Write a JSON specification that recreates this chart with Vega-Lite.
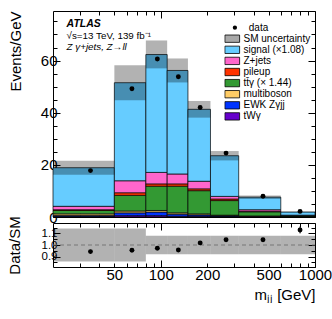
{
  "$schema": "https://vega.github.io/schema/vega-lite/v6.json",
  "padding": {"left": 7, "top": 10, "right": 0, "bottom": 0},
  "spacing": 6,
  "bounds": "flush",
  "config": {
    "font": "Liberation Sans",
    "view": {"stroke": "black", "strokeWidth": 1},
    "axis": {"domain": false, "grid": false, "tickColor": "black", "tickWidth": 1, "labelColor": "black", "titleColor": "black", "labelFont": "Liberation Sans", "titleFont": "Liberation Sans", "labelFontSize": 15, "titleFontSize": 15, "titleFontWeight": "normal", "labelFlush": false, "labelOverlap": false, "minExtent": 0},
    "legend": {"padding": 0}
  },
  "datasets": {
    "stack": [
      {"lo": 20, "hi": 50, "p": "tWγ", "o": 1, "v": 0.2},
      {"lo": 20, "hi": 50, "p": "EWK Zγjj", "o": 2, "v": 0.4},
      {"lo": 20, "hi": 50, "p": "multiboson", "o": 3, "v": 0.6},
      {"lo": 20, "hi": 50, "p": "tt̄γ (× 1.44)", "o": 4, "v": 1.3},
      {"lo": 20, "hi": 50, "p": "pileup", "o": 5, "v": 0.3},
      {"lo": 20, "hi": 50, "p": "Z+jets", "o": 6, "v": 1.3},
      {"lo": 20, "hi": 50, "p": "signal (×1.08)", "o": 7, "v": 14.8},
      {"lo": 50, "hi": 80, "p": "tWγ", "o": 1, "v": 0.5},
      {"lo": 50, "hi": 80, "p": "EWK Zγjj", "o": 2, "v": 1.1},
      {"lo": 50, "hi": 80, "p": "multiboson", "o": 3, "v": 0.7},
      {"lo": 50, "hi": 80, "p": "tt̄γ (× 1.44)", "o": 4, "v": 6.0},
      {"lo": 50, "hi": 80, "p": "pileup", "o": 5, "v": 1.0},
      {"lo": 50, "hi": 80, "p": "Z+jets", "o": 6, "v": 4.6},
      {"lo": 50, "hi": 80, "p": "signal (×1.08)", "o": 7, "v": 37.6},
      {"lo": 80, "hi": 110, "p": "tWγ", "o": 1, "v": 0.5},
      {"lo": 80, "hi": 110, "p": "EWK Zγjj", "o": 2, "v": 1.4},
      {"lo": 80, "hi": 110, "p": "multiboson", "o": 3, "v": 0.6},
      {"lo": 80, "hi": 110, "p": "tt̄γ (× 1.44)", "o": 4, "v": 9.3},
      {"lo": 80, "hi": 110, "p": "pileup", "o": 5, "v": 0.9},
      {"lo": 80, "hi": 110, "p": "Z+jets", "o": 6, "v": 4.4},
      {"lo": 80, "hi": 110, "p": "signal (×1.08)", "o": 7, "v": 45.2},
      {"lo": 110, "hi": 150, "p": "tWγ", "o": 1, "v": 0.3},
      {"lo": 110, "hi": 150, "p": "EWK Zγjj", "o": 2, "v": 0.8},
      {"lo": 110, "hi": 150, "p": "multiboson", "o": 3, "v": 0.5},
      {"lo": 110, "hi": 150, "p": "tt̄γ (× 1.44)", "o": 4, "v": 10.2},
      {"lo": 110, "hi": 150, "p": "pileup", "o": 5, "v": 0.9},
      {"lo": 110, "hi": 150, "p": "Z+jets", "o": 6, "v": 3.8},
      {"lo": 110, "hi": 150, "p": "signal (×1.08)", "o": 7, "v": 39.7},
      {"lo": 150, "hi": 210, "p": "tWγ", "o": 1, "v": 0.3},
      {"lo": 150, "hi": 210, "p": "EWK Zγjj", "o": 2, "v": 0.5},
      {"lo": 150, "hi": 210, "p": "multiboson", "o": 3, "v": 0.4},
      {"lo": 150, "hi": 210, "p": "tt̄γ (× 1.44)", "o": 4, "v": 8.9},
      {"lo": 150, "hi": 210, "p": "pileup", "o": 5, "v": 0.7},
      {"lo": 150, "hi": 210, "p": "Z+jets", "o": 6, "v": 2.9},
      {"lo": 150, "hi": 210, "p": "signal (×1.08)", "o": 7, "v": 27.6},
      {"lo": 210, "hi": 320, "p": "tWγ", "o": 1, "v": 0.2},
      {"lo": 210, "hi": 320, "p": "EWK Zγjj", "o": 2, "v": 0.3},
      {"lo": 210, "hi": 320, "p": "multiboson", "o": 3, "v": 0.2},
      {"lo": 210, "hi": 320, "p": "tt̄γ (× 1.44)", "o": 4, "v": 5.6},
      {"lo": 210, "hi": 320, "p": "pileup", "o": 5, "v": 0.6},
      {"lo": 210, "hi": 320, "p": "Z+jets", "o": 6, "v": 1.0},
      {"lo": 210, "hi": 320, "p": "signal (×1.08)", "o": 7, "v": 15.6},
      {"lo": 320, "hi": 600, "p": "tWγ", "o": 1, "v": 0.1},
      {"lo": 320, "hi": 600, "p": "EWK Zγjj", "o": 2, "v": 0.2},
      {"lo": 320, "hi": 600, "p": "multiboson", "o": 3, "v": 0.1},
      {"lo": 320, "hi": 600, "p": "tt̄γ (× 1.44)", "o": 4, "v": 1.6},
      {"lo": 320, "hi": 600, "p": "pileup", "o": 5, "v": 0.2},
      {"lo": 320, "hi": 600, "p": "Z+jets", "o": 6, "v": 0.6},
      {"lo": 320, "hi": 600, "p": "signal (×1.08)", "o": 7, "v": 4.8},
      {"lo": 600, "hi": 1000, "p": "tWγ", "o": 1, "v": 0.05},
      {"lo": 600, "hi": 1000, "p": "EWK Zγjj", "o": 2, "v": 0.1},
      {"lo": 600, "hi": 1000, "p": "multiboson", "o": 3, "v": 0.05},
      {"lo": 600, "hi": 1000, "p": "tt̄γ (× 1.44)", "o": 4, "v": 0.3},
      {"lo": 600, "hi": 1000, "p": "pileup", "o": 5, "v": 0.05},
      {"lo": 600, "hi": 1000, "p": "Z+jets", "o": 6, "v": 0.15},
      {"lo": 600, "hi": 1000, "p": "signal (×1.08)", "o": 7, "v": 1.2}
    ],
    "bins": [
      {"lo": 20, "hi": 50, "xc": 35, "d": 17.8, "elo": 17.5, "ehi": 18.1, "ulo": 16.2, "uhi": 21.6, "r": 0.943, "qlo": 0.928, "qhi": 0.958, "rlo": 0.857, "rhi": 1.143},
      {"lo": 50, "hi": 80, "xc": 65, "d": 49.2, "elo": 48.6, "ehi": 49.8, "ulo": 44.8, "uhi": 58.2, "r": 0.955, "qlo": 0.943, "qhi": 0.967, "rlo": 0.857, "rhi": 1.143},
      {"lo": 80, "hi": 110, "xc": 95, "d": 60.6, "elo": 59.9, "ehi": 61.3, "ulo": 57.0, "uhi": 67.7, "r": 0.972, "qlo": 0.961, "qhi": 0.983, "rlo": 0.92, "rhi": 1.08},
      {"lo": 110, "hi": 150, "xc": 130, "d": 53.8, "elo": 53.2, "ehi": 54.4, "ulo": 51.6, "uhi": 60.8, "r": 0.957, "qlo": 0.946, "qhi": 0.968, "rlo": 0.92, "rhi": 1.08},
      {"lo": 150, "hi": 210, "xc": 180, "d": 42.0, "elo": 41.55, "ehi": 42.45, "ulo": 38.1, "uhi": 44.5, "r": 1.018, "qlo": 1.007, "qhi": 1.029, "rlo": 0.92, "rhi": 1.08},
      {"lo": 210, "hi": 320, "xc": 265, "d": 24.5, "elo": 24.2, "ehi": 24.8, "ulo": 21.7, "uhi": 25.3, "r": 1.045, "qlo": 1.032, "qhi": 1.058, "rlo": 0.92, "rhi": 1.08},
      {"lo": 320, "hi": 600, "xc": 460, "d": 7.95, "elo": 7.83, "ehi": 8.07, "ulo": 6.95, "uhi": 8.25, "r": 1.045, "qlo": 1.029, "qhi": 1.061, "rlo": 0.92, "rhi": 1.08},
      {"lo": 600, "hi": 1000, "xc": 800, "d": 2.15, "elo": 2.09, "ehi": 2.21, "ulo": 1.75, "uhi": 2.05, "r": 1.13, "qlo": 1.1, "qhi": 1.16, "rlo": 0.92, "rhi": 1.08}
    ]
  },
  "vconcat": [
    {
      "width": 262,
      "height": 206,
      "resolve": {"axis": {"x": "independent", "y": "independent"}},
      "layer": [
        {
          "data": {"name": "stack"},
          "transform": [{"stack": "v", "groupby": ["lo"], "sort": [{"field": "o", "order": "ascending"}], "as": ["v0", "v1"]}],
          "mark": {"type": "bar", "stroke": "black", "strokeWidth": 0.7},
          "encoding": {
            "x": {"field": "lo", "type": "quantitative", "scale": {"type": "log", "domain": [20, 1000], "nice": false, "zero": false}, "axis": {"orient": "bottom", "values": [100, 1000], "labels": false, "tickSize": -7, "maxExtent": 0, "title": null}},
            "x2": {"field": "hi"},
            "y": {"field": "v0", "type": "quantitative", "scale": {"domain": [0, 79], "nice": false, "zero": false}, "axis": {"orient": "left", "values": [0, 20, 40, 60], "tickSize": -7, "labelPadding": 3, "title": "Events/GeV", "titleAnchor": "end", "titlePadding": 17}},
            "y2": {"field": "v1"},
            "color": {
              "field": "p", "type": "nominal",
              "scale": {"domain": ["SM uncertainty", "signal (×1.08)", "Z+jets", "pileup", "tt̄γ (× 1.44)", "multiboson", "EWK Zγjj", "tWγ"], "range": ["#a8a8a8", "#66ccff", "#ff66cc", "#ff3300", "#339933", "#ffcc66", "#0033ff", "#6600cc"]},
              "legend": {
                "title": null, "orient": "none", "legendX": 171.25, "legendY": 22.2,
                "labelFont": "Liberation Sans", "labelFontSize": 10, "labelColor": "black",
                "symbolType": "M-1,-0.5H1V0.5H-1Z", "symbolSize": 216, "symbolStrokeColor": "black", "symbolStrokeWidth": 0.8, "symbolOpacity": 1,
                "clipHeight": 11, "rowPadding": 0.1, "labelOffset": 3.25, "padding": 0, "offset": 0
              }
            }
          }
        },
        {
          "data": {"name": "bins"},
          "mark": {"type": "bar", "fill": "black", "fillOpacity": 0.3},
          "encoding": {
            "x": {"field": "lo", "type": "quantitative", "scale": {"type": "log", "domain": [20, 1000], "nice": false, "zero": false}, "axis": {"orient": "top", "values": [100, 1000], "labels": false, "tickSize": -7, "maxExtent": 0, "title": null}},
            "x2": {"field": "hi"},
            "y": {"field": "ulo", "type": "quantitative", "scale": {"domain": [0, 79], "nice": false, "zero": false}, "axis": {"orient": "right", "values": [0, 20, 40, 60], "labels": false, "tickSize": -7, "maxExtent": 0, "title": null}},
            "y2": {"field": "uhi"}
          }
        },
        {
          "data": {"name": "bins"},
          "mark": {"type": "rule", "color": "black", "strokeWidth": 1},
          "encoding": {
            "x": {"field": "xc", "type": "quantitative", "scale": {"type": "log", "domain": [20, 1000], "nice": false, "zero": false}, "axis": {"orient": "bottom", "values": [30, 40, 50, 60, 70, 80, 90, 200, 300, 400, 500, 600, 700, 800, 900], "labels": false, "tickSize": -4, "maxExtent": 0, "title": null}},
            "y": {"field": "elo", "type": "quantitative", "scale": {"domain": [0, 79], "nice": false, "zero": false}, "axis": {"orient": "left", "values": [5, 10, 15, 25, 30, 35, 45, 50, 55, 65, 70, 75], "labels": false, "tickSize": -4, "maxExtent": 0, "title": null}},
            "y2": {"field": "ehi"}
          }
        },
        {
          "data": {"name": "bins"},
          "mark": {"type": "point", "filled": true, "color": "black", "size": 24, "opacity": 1},
          "encoding": {
            "x": {"field": "xc", "type": "quantitative", "scale": {"type": "log", "domain": [20, 1000], "nice": false, "zero": false}, "axis": {"orient": "top", "values": [30, 40, 50, 60, 70, 80, 90, 200, 300, 400, 500, 600, 700, 800, 900], "labels": false, "tickSize": -4, "maxExtent": 0, "title": null}},
            "y": {"field": "d", "type": "quantitative", "scale": {"domain": [0, 79], "nice": false, "zero": false}, "axis": {"orient": "right", "values": [5, 10, 15, 25, 30, 35, 45, 50, 55, 65, 70, 75], "labels": false, "tickSize": -4, "maxExtent": 0, "title": null}},
            "shape": {
              "datum": "data", "type": "nominal",
              "scale": {"domain": ["data"], "range": ["circle"]},
              "legend": {
                "title": null, "orient": "none", "legendX": 176.9, "legendY": 11.2,
                "labelFont": "Liberation Sans", "labelFontSize": 10, "labelColor": "black",
                "symbolSize": 18, "symbolStrokeWidth": 0, "symbolFillColor": "black", "symbolOpacity": 1,
                "clipHeight": 11, "labelOffset": 8.9, "padding": 0, "offset": 0
              }
            }
          }
        },
        {
          "data": {"values": [{}]},
          "mark": {"type": "text", "text": "ATLAS", "font": "Liberation Sans", "fontSize": 10.5, "fontWeight": "bold", "fontStyle": "italic", "align": "left", "baseline": "alphabetic", "color": "black"},
          "encoding": {
            "x": {"datum": 24.5, "type": "quantitative", "scale": {"type": "log", "domain": [20, 1000], "nice": false, "zero": false}, "axis": null},
            "y": {"datum": 72.9, "type": "quantitative", "scale": {"domain": [0, 79], "nice": false, "zero": false}, "axis": null}
          }
        },
        {
          "data": {"values": [{}]},
          "mark": {"type": "text", "text": "√s=13 TeV, 139 fb⁻¹", "font": "Liberation Sans", "fontSize": 9.8, "align": "left", "baseline": "alphabetic", "color": "black"},
          "encoding": {
            "x": {"datum": 24.5, "type": "quantitative", "scale": {"type": "log", "domain": [20, 1000], "nice": false, "zero": false}, "axis": null},
            "y": {"datum": 68.3, "type": "quantitative", "scale": {"domain": [0, 79], "nice": false, "zero": false}, "axis": null}
          }
        },
        {
          "data": {"values": [{}]},
          "mark": {"type": "text", "text": "Z γ+jets, Z→ll", "font": "Liberation Sans", "fontSize": 9.8, "fontStyle": "italic", "align": "left", "baseline": "alphabetic", "color": "black"},
          "encoding": {
            "x": {"datum": 24.5, "type": "quantitative", "scale": {"type": "log", "domain": [20, 1000], "nice": false, "zero": false}, "axis": null},
            "y": {"datum": 64.0, "type": "quantitative", "scale": {"domain": [0, 79], "nice": false, "zero": false}, "axis": null}
          }
        }
      ]
    },
    {
      "width": 262,
      "height": 44,
      "resolve": {"axis": {"x": "independent", "y": "independent"}},
      "layer": [
        {
          "data": {"name": "bins"},
          "mark": {"type": "bar", "fill": "black", "fillOpacity": 0.3},
          "encoding": {
            "x": {"field": "lo", "type": "quantitative", "scale": {"type": "log", "domain": [20, 1000], "nice": false, "zero": false}, "axis": {"orient": "bottom", "values": [30, 40, 50, 60, 70, 80, 90, 200, 300, 400, 500, 600, 700, 800, 900, 100, 1000], "format": "d", "labelExpr": "indexof([50, 100, 200, 500, 1000], datum.value) >= 0 ? datum.label : ''", "tickSize": -4, "labelPadding": 4, "title": "mⱼⱼ [GeV]", "titleAnchor": "end", "titlePadding": 5}},
            "x2": {"field": "hi"},
            "y": {"field": "rlo", "type": "quantitative", "scale": {"domain": [0.81, 1.19], "nice": false, "zero": false}, "axis": {"orient": "left", "values": [0.9, 1, 1.1], "labelFontSize": 11.5, "tickSize": -7, "labelPadding": 3, "title": "Data/SM", "titlePadding": 18.5}},
            "y2": {"field": "rhi"}
          }
        },
        {
          "data": {"values": [{}]},
          "mark": {"type": "rule", "color": "#777777", "strokeWidth": 1, "strokeDash": [4, 3]},
          "encoding": {
            "x": {"datum": 20, "type": "quantitative", "scale": {"type": "log", "domain": [20, 1000], "nice": false, "zero": false}, "axis": {"orient": "bottom", "values": [100, 1000], "labels": false, "tickSize": -7, "maxExtent": 0, "title": null}},
            "x2": {"datum": 1000},
            "y": {"datum": 1, "type": "quantitative", "scale": {"domain": [0.81, 1.19], "nice": false, "zero": false}, "axis": {"orient": "right", "values": [0.9, 1, 1.1], "labels": false, "tickSize": -7, "maxExtent": 0, "title": null}}
          }
        },
        {
          "data": {"name": "bins"},
          "mark": {"type": "rule", "color": "black", "strokeWidth": 1},
          "encoding": {
            "x": {"field": "xc", "type": "quantitative", "scale": {"type": "log", "domain": [20, 1000], "nice": false, "zero": false}, "axis": {"orient": "top", "values": [100, 1000], "labels": false, "tickSize": -7, "maxExtent": 0, "title": null}},
            "y": {"field": "qlo", "type": "quantitative", "scale": {"domain": [0.81, 1.19], "nice": false, "zero": false}, "axis": {"orient": "left", "values": [0.85, 0.95, 1.05, 1.15], "labels": false, "tickSize": -4, "maxExtent": 0, "title": null}},
            "y2": {"field": "qhi"}
          }
        },
        {
          "data": {"name": "bins"},
          "mark": {"type": "point", "filled": true, "color": "black", "size": 24, "opacity": 1},
          "encoding": {
            "x": {"field": "xc", "type": "quantitative", "scale": {"type": "log", "domain": [20, 1000], "nice": false, "zero": false}, "axis": {"orient": "top", "values": [30, 40, 50, 60, 70, 80, 90, 200, 300, 400, 500, 600, 700, 800, 900], "labels": false, "tickSize": -4, "maxExtent": 0, "title": null}},
            "y": {"field": "r", "type": "quantitative", "scale": {"domain": [0.81, 1.19], "nice": false, "zero": false}, "axis": {"orient": "right", "values": [0.85, 0.95, 1.05, 1.15], "labels": false, "tickSize": -4, "maxExtent": 0, "title": null}}
          }
        }
      ]
    }
  ]
}
